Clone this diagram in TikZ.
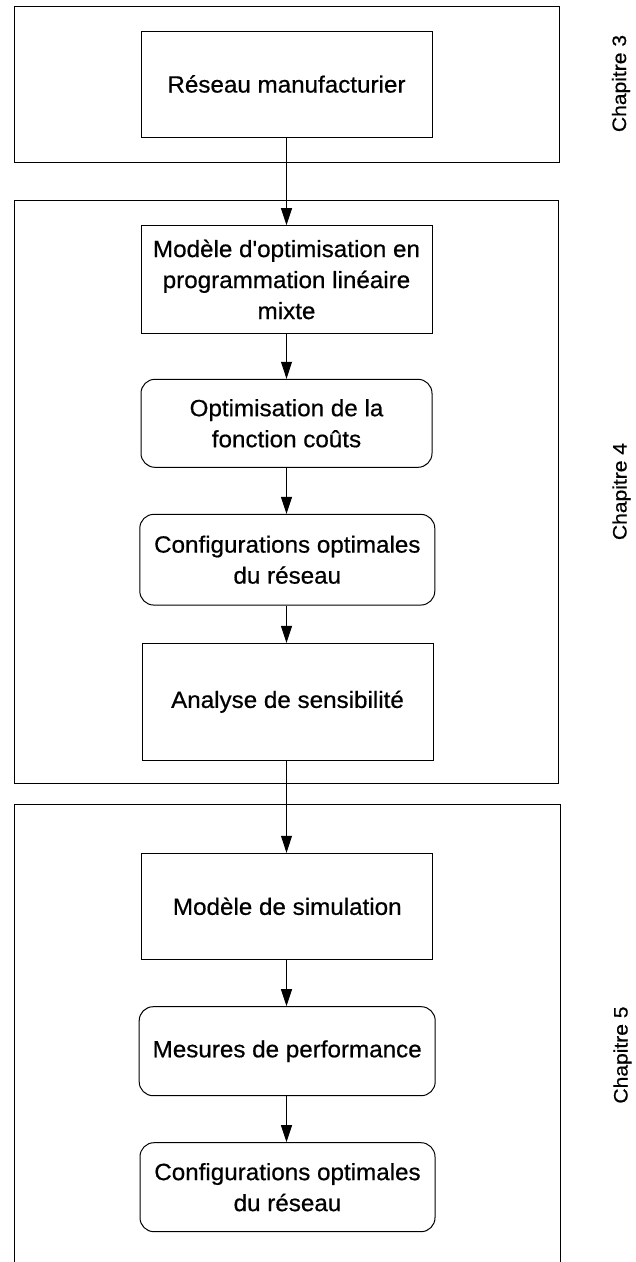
\documentclass[tikz,border=0pt]{standalone}
\usepackage{fontspec}
\setmainfont[FakeStretch=1.03,FakeBold=0.6,Ligatures=TeXOff]{Liberation Sans}
\newfontfamily\chapfont[FakeStretch=1.08,FakeBold=0.6]{Liberation Sans}
\usetikzlibrary{arrows.meta}
\tikzset{
  every picture/.style={x=1pt,y=-1pt},
  outerbox/.style={draw, line width=1pt},
  stepbox/.style={draw, line width=1pt, align=center, inner sep=2pt,
    font=\fontsize{23.5}{31}\selectfont},
  roundbox/.style={stepbox, rounded corners=14pt},
  flow/.style={draw, line width=1pt, -{Triangle[width=11pt,length=17pt]}},
  chaplabel/.style={rotate=90, font=\chapfont\fontsize{19.5}{21}\selectfont}
}
\begin{document}
\begin{tikzpicture}
\useasboundingbox (0,0) rectangle (636,1262);
% outer frames
\draw[outerbox] (14,6) rectangle (559,162);
\draw[outerbox] (14,200.7) rectangle (558.5,783.3);
\draw[outerbox] (14,1262) -- (14,804) -- (560,804) -- (560,1262);
% chapter labels
\node[chaplabel] (ch3) at (621,83.5) {Chapitre 3};
\node[chaplabel] (ch4) at (621.5,491.5) {Chapitre 4};
\node[chaplabel] (ch5) at (622.5,1055) {Chapitre 5};
% steps
\node[stepbox, minimum width=291pt, minimum height=106pt] (res) at (286.5,84) {Réseau manufacturier};
\node[stepbox, minimum width=291pt, minimum height=107.7pt] (mod) at (286.5,279.5) {Modèle d'optimisation en\\programmation linéaire\\mixte};
\node[roundbox, minimum width=291pt, minimum height=88pt] (opt) at (286.5,423.3) {Optimisation de la\\fonction coûts};
\node[roundbox, minimum width=295pt, minimum height=90.7pt] (conf) at (287.3,559.7) {Configurations optimales\\du réseau};
\node[stepbox, minimum width=291pt, minimum height=116.7pt] (ana) at (287.5,701.7) {Analyse de sensibilité};
\node[stepbox, minimum width=291pt, minimum height=106pt] (sim) at (287.3,906.3) {Modèle de simulation};
\node[roundbox, minimum width=296pt, minimum height=89pt] (mes) at (287.2,1051.2) {Mesures de performance};
\node[roundbox, minimum width=295pt, minimum height=89pt] (conf2) at (287.5,1187.2) {Configurations optimales\\du réseau};
% connectors
\draw[flow] (res.south -| 286.5,0) -- (mod.north -| 286.5,0);
\draw[flow] (mod.south -| 286.5,0) -- (opt.north -| 286.5,0);
\draw[flow] (opt.south -| 286.5,0) -- (conf.north -| 286.5,0);
\draw[flow] (conf.south -| 286.5,0) -- (ana.north -| 286.5,0);
\draw[flow] (ana.south -| 286.5,0) -- (sim.north -| 286.5,0);
\draw[flow] (sim.south -| 286.5,0) -- (mes.north -| 286.5,0);
\draw[flow] (mes.south -| 286.5,0) -- (conf2.north -| 286.5,0);
\end{tikzpicture}
\end{document}
